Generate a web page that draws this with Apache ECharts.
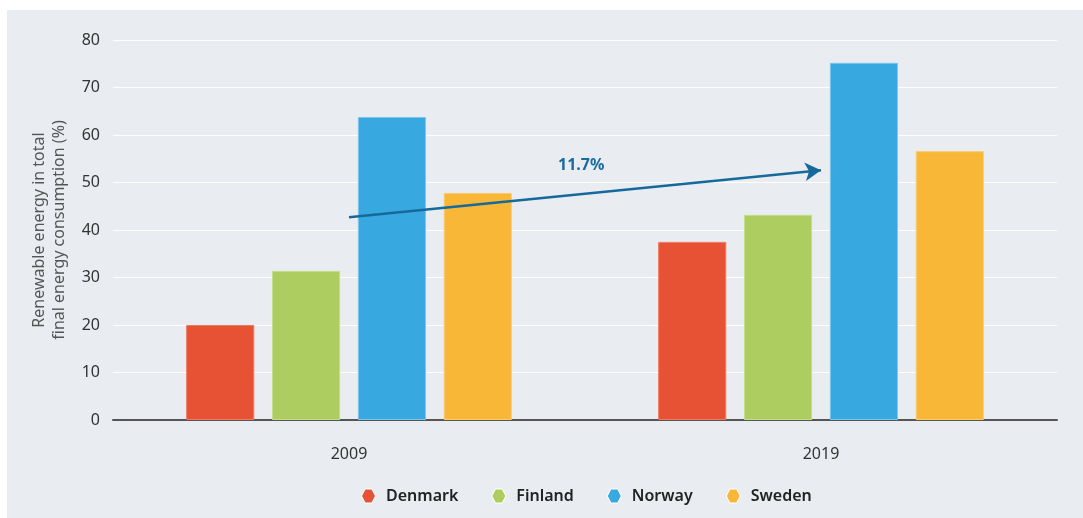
<!DOCTYPE html>
<html>
<head>
<meta charset="utf-8">
<script src="https://cdn.jsdelivr.net/npm/echarts@6/dist/echarts.min.js"></script>
<style>
  html, body { margin: 0; padding: 0; background: #ffffff; }
  #chart { position: absolute; left: 7px; top: 10px; width: 1076px; height: 508px; background: #e9edf2; }
</style>
</head>
<body>
<div id="chart"></div>
<script>
// data
const years = ['2009', '2019'];
const countries = ['Denmark', 'Finland', 'Norway', 'Sweden'];
const denmark = [20.0, 37.5];
const finland = [31.4, 43.2];
const norway = [63.8, 75.2];
const sweden = [47.8, 56.6];
const growthFrom = 42.7;
const growthTo = 52.6;
const growthLabel = '11.7%';

const colors = ['#e85234', '#aecd61', '#38a9e0', '#f9b737'];
const borders = ['#ee7a61', '#c6de8c', '#7cc6ea', '#fbcb6e'];
const hexagon = 'path://M0,5 L2.6,0 L7.4,0 L10,5 L7.4,10 L2.6,10 Z';
const font = 'Noto Sans';

const chart = echarts.init(document.getElementById('chart'));

/**
 * one bar series per country
 */
const makeSeries = (name, values, i) => ({
    name: name,
    type: 'bar',
    data: values,
    barGap: '26%',
    barCategoryGap: '31%',
    itemStyle: { color: colors[i], borderColor: borders[i], borderWidth: 1 }
});

const series = [denmark, finland, norway, sweden].map((v, i) => makeSeries(countries[i], v, i));

// growth arrow from 2009 to 2019, on an empty line series so it sits on category centres
series.push({
    name: 'growth',
    type: 'line',
    data: [],
    markLine: {
        silent: true,
        symbol: ['none', 'arrow'],
        symbolSize: [14, 16],
        lineStyle: { color: '#16699b', width: 2.5, type: 'solid' },
        label: { show: false },
        data: [[
            { coord: ['2009', growthFrom] },
            { coord: ['2019', growthTo] }
        ]]
    }
});

chart.setOption({
    textStyle: { fontFamily: font },
    color: colors,
    grid: { left: 106, right: 26, top: 30, bottom: 98 },
    legend: {
        bottom: 9,
        left: 349,
        icon: hexagon,
        itemWidth: 15,
        itemHeight: 14,
        itemGap: 33,
        itemStyle: { borderColor: '#ffffff', borderWidth: 1 },
        textStyle: { fontSize: 16, fontWeight: 600, color: '#222222', fontFamily: font, padding: [0, 0, 0, 5] },
        data: countries
    },
    xAxis: {
        type: 'category',
        data: years,
        axisLine: { lineStyle: { color: '#555555', width: 2 } },
        axisTick: { show: false },
        axisLabel: { fontSize: 16, color: '#333333', margin: 26 }
    },
    yAxis: {
        type: 'value',
        min: 0,
        max: 80,
        interval: 10,
        name: 'Renewable energy in total\nfinal energy consumption (%)',
        nameLocation: 'middle',
        nameGap: 44,
        nameTextStyle: { fontSize: 16, color: '#555555', lineHeight: 20 },
        axisLine: { show: false },
        axisTick: { show: false },
        axisLabel: { fontSize: 16, color: '#333333', margin: 13 },
        splitLine: { lineStyle: { color: '#ffffff', width: 1 } }
    },
    graphic: [{
        type: 'text',
        left: 551,
        top: 147,
        style: { text: growthLabel, fontSize: 16, fontWeight: 'bold', fill: '#1a6b9e', fontFamily: font }
    }],
    series: series
});
</script>
</body>
</html>
